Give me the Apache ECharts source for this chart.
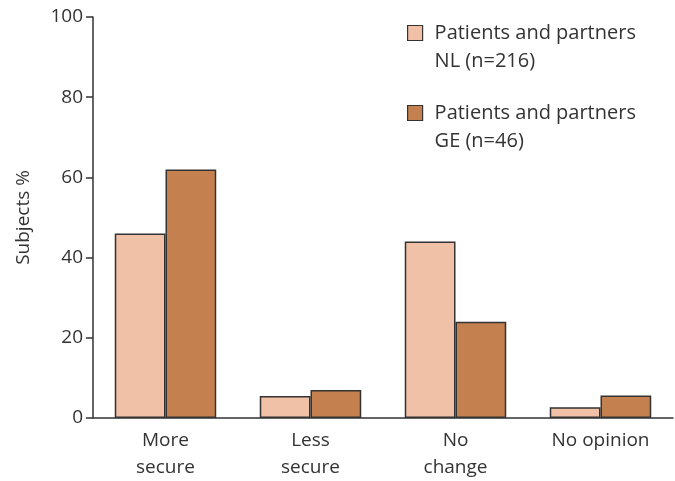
<!DOCTYPE html>
<html>
<head>
<meta charset="utf-8">
<script src="https://cdn.jsdelivr.net/npm/echarts@6/dist/echarts.min.js"></script>
<style>html,body{margin:0;padding:0;background:#fff;overflow:hidden}#c{width:675px;height:481px}</style>
</head>
<body>
<div id="c"></div>
<script>
const categories = ['More\nsecure', 'Less\nsecure', 'No\nchange', 'No opinion'];
const seriesNames = ['Patients and partners\nNL (n=216)', 'Patients and partners\nGE (n=46)'];
const nlValues = [46, 5.5, 44, 2.7];
const geValues = [62, 7, 24, 5.6];
const yTicks = [0, 20, 40, 60, 80, 100];

const FONT = 'Open Sans';
const TXT = '#333';
const chart = echarts.init(document.getElementById('c'));
const legendCommon = {
  orient: 'vertical', left: 402, itemWidth: 15, itemHeight: 43, selectedMode: false,
  icon: 'path://M0,0L15,0L15,15L0,15Z M0,43',
  itemStyle: { borderColor: '#333', borderWidth: 1.2 },
  textStyle: { fontFamily: FONT, fontSize: 20, color: TXT, lineHeight: 28, padding: [0, 0, 0, 7] }
};
chart.setOption({
  animation: false,
  textStyle: { fontFamily: FONT },
  legend: [
    Object.assign({}, legendCommon, { top: 14, data: [seriesNames[0]] }),
    Object.assign({}, legendCommon, { top: 94, data: [seriesNames[1]] })
  ],
  grid: { left: 93, right: 2, top: 17, height: 403, containLabel: false },
  xAxis: {
    type: 'category', data: categories,
    axisLine: { lineStyle: { color: '#333', width: 1.5 } },
    axisTick: { alignWithLabel: true, length: 6, lineStyle: { color: '#333', width: 1.5 } },
    axisLabel: { fontFamily: FONT, fontSize: 19, color: TXT, lineHeight: 27, margin: 9 }
  },
  yAxis: {
    type: 'value', min: 0, max: 100, interval: 20,
    name: 'Subjects %', nameLocation: 'middle', nameGap: 60,
    nameTextStyle: { fontFamily: FONT, fontSize: 19, color: TXT },
    splitLine: { show: false },
    axisLine: { show: true, lineStyle: { color: '#333', width: 1.5 } },
    axisTick: { show: true, length: 7, lineStyle: { color: '#333', width: 1.5 } },
    axisLabel: { fontFamily: FONT, fontSize: 19, color: TXT, margin: 10,
      formatter: v => yTicks.includes(v) ? String(v) : '' }
  },
  series: [
    { name: seriesNames[0], type: 'bar', data: nlValues, barGap: '0%', barCategoryGap: '30%',
      itemStyle: { color: '#F0C1A6', borderColor: '#333', borderWidth: 1.5 } },
    { name: seriesNames[1], type: 'bar', data: geValues, barGap: '0%', barCategoryGap: '30%',
      itemStyle: { color: '#C5804F', borderColor: '#333', borderWidth: 1.5 } }
  ]
});
</script>
</body>
</html>
